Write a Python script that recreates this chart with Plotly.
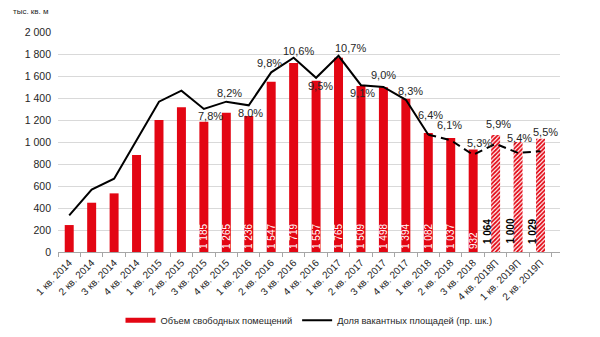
import plotly.graph_objects as go

# Quarterly categories (П = forecast)
quarters = [
    "1 кв. 2014", "2 кв. 2014", "3 кв. 2014", "4 кв. 2014",
    "1 кв. 2015", "2 кв. 2015", "3 кв. 2015", "4 кв. 2015",
    "1 кв. 2016", "2 кв. 2016", "3 кв. 2016", "4 кв. 2016",
    "1 кв. 2017", "2 кв. 2017", "3 кв. 2017", "4 кв. 2017",
    "1 кв. 2018", "2 кв. 2018", "3 кв. 2018", "4 кв. 2018П",
    "1 кв. 2019П", "2 кв. 2019П",
]
# Vacant space, thousand sq. m
volume = [245, 448, 533, 882, 1200, 1315, 1185, 1265, 1236, 1547, 1719,
          1557, 1765, 1509, 1498, 1394, 1082, 1037, 932, 1064, 1000, 1029]
# Vacancy rate, %
vacancy = [2.0, 3.4, 4.0, 6.1, 8.2, 8.8, 7.8, 8.2, 8.0, 9.8, 10.6, 9.5,
           10.7, 9.1, 9.0, 8.3, 6.4, 6.1, 5.3, 5.9, 5.4, 5.5]

N_ACTUAL = 19        # quarters with reported data; the rest are forecasts
FIRST_LABEL = 6      # values are labelled from 3 кв. 2015 on
DASH_FROM = 16       # vacancy line turns dashed from 1 кв. 2018

RED = "#E30613"
TXT = "#262626"
FONT = "Liberation Sans, Arial, sans-serif"


def fmt_thousands(v):
    return f"{v:,}".replace(",", " ")


def fmt_pct(v):
    return f"{v:.1f}".replace(".", ",") + "%"


fig = go.Figure()

# Reported vacant space
fig.add_trace(go.Bar(
    x=quarters[:N_ACTUAL], y=volume[:N_ACTUAL],
    marker=dict(color=RED, line=dict(width=0)),
    width=0.4,
    text=[fmt_thousands(v) if i >= FIRST_LABEL else "" for i, v in enumerate(volume[:N_ACTUAL])],
    textposition="inside", insidetextanchor="start", textangle=-90,
    textfont=dict(color="white", size=10, family=FONT),
    showlegend=False, hoverinfo="skip",
))

# Forecast vacant space (hatched)
fig.add_trace(go.Bar(
    x=quarters[N_ACTUAL:], y=volume[N_ACTUAL:],
    marker=dict(color=RED, line=dict(width=0),
                pattern=dict(shape="/", fgcolor=RED, bgcolor="white",
                             size=3, solidity=0.6, fillmode="replace")),
    width=0.4,
    showlegend=False, hoverinfo="skip",
))

# Vacancy rate on the secondary axis: solid, then dashed
fig.add_trace(go.Scatter(
    x=quarters[:DASH_FROM + 1], y=vacancy[:DASH_FROM + 1], yaxis="y2",
    mode="lines", line=dict(color="black", width=2),
    showlegend=False, hoverinfo="skip",
))
fig.add_trace(go.Scatter(
    x=quarters[DASH_FROM:], y=vacancy[DASH_FROM:], yaxis="y2",
    mode="lines", line=dict(color="black", width=2, dash="8px,5px"),
    showlegend=False, hoverinfo="skip",
))

# Legend entries
fig.add_trace(go.Scatter(
    x=[None], y=[None], mode="lines", line=dict(color=RED, width=5),
    name="Объем свободных помещений",
))
fig.add_trace(go.Scatter(
    x=[None], y=[None], mode="lines", line=dict(color="black", width=2),
    name="Доля вакантных площадей (пр. шк.)",
))

annotations = []

# Percentage labels: (dx, dy) pixel offset of each label from its point
pct_offsets = {
    6: (7, 7), 7: (3, -9), 8: (2, 8), 9: (-2, -9), 10: (5, -7),
    11: (4, 8), 12: (12, -8), 13: (2, 8), 14: (0, -12), 15: (5, -9),
    16: (2, -20), 17: (-1, -15), 18: (6, -12), 19: (3, -20),
    20: (1, -15), 21: (5, -19),
}
for i in range(FIRST_LABEL, len(quarters)):
    dx, dy = pct_offsets.get(i, (0, -10))
    annotations.append(dict(
        x=quarters[i], y=vacancy[i], xref="x", yref="y2",
        text=fmt_pct(vacancy[i]), showarrow=False,
        xshift=dx, yshift=-dy,
        font=dict(size=11, color=TXT, family=FONT),
    ))

# Forecast value labels beside the hatched bars
for i in range(N_ACTUAL, len(quarters)):
    annotations.append(dict(
        x=quarters[i], y=0, xref="x", yref="y",
        text="<b>" + fmt_thousands(volume[i]) + "</b>", showarrow=False,
        textangle=-90, xanchor="center", yanchor="bottom",
        xshift=-8, yshift=6,
        font=dict(size=10, color="black", family=FONT),
    ))

# Units caption
annotations.append(dict(
    x=0, y=1, xref="paper", yref="paper", xanchor="left", yanchor="middle",
    xshift=-47, yshift=21, text="тыс. кв. м", showarrow=False,
    font=dict(size=8, color=TXT, family=FONT),
))

fig.update_layout(
    width=600, height=337,
    margin=dict(l=58, r=40, t=32, b=85, autoexpand=False),
    paper_bgcolor="white", plot_bgcolor="white",
    separators=", ",
    barmode="overlay",
    font=dict(family=FONT, size=10, color=TXT),
    uniformtext=dict(minsize=10, mode="show"),
    xaxis=dict(
        categoryorder="array", categoryarray=quarters,
        tickangle=-45, tickfont=dict(size=10, color=TXT),
        showline=True, linecolor="#a6a6a6", linewidth=1,
        ticks="outside", tickson="boundaries", ticklen=4, tickcolor="#a6a6a6",
        showgrid=False, automargin=False,
    ),
    yaxis=dict(
        range=[0, 2000], dtick=200, tickformat=",d",
        tickfont=dict(size=10.5, color=TXT),
        showgrid=True, gridcolor="#d9d9d9", gridwidth=1,
        zeroline=False, showline=False, ticks="", ticklabelstandoff=6,
        automargin=False,
    ),
    yaxis2=dict(
        overlaying="y", side="right", range=[0, 12], visible=False,
    ),
    legend=dict(
        orientation="h", x=0.5, xanchor="center",
        yref="container", y=0.05, yanchor="middle",
        font=dict(size=9.3, color=TXT, family=FONT),
        itemwidth=30, tracegroupgap=0,
    ),
    annotations=annotations,
)

fig.write_html("out.html")
